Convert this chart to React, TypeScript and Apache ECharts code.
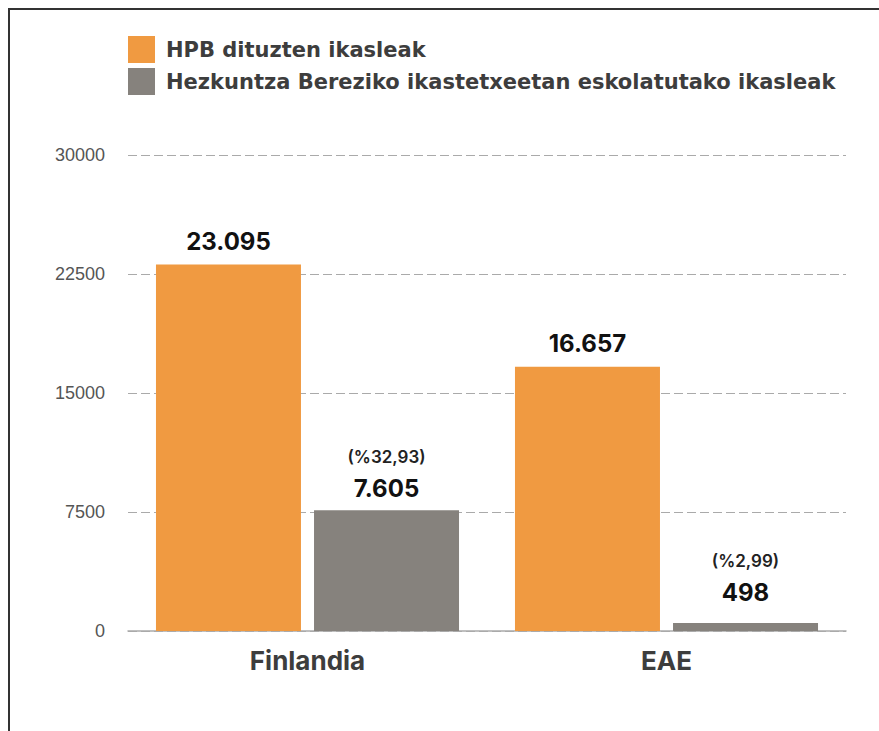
import React, { useEffect, useRef } from "react";
import * as echarts from "echarts";

const categories = ["Finlandia", "EAE"];
const seriesNames = [
  "HPB dituzten ikasleak",
  "Hezkuntza Bereziko ikastetxeetan eskolatutako ikasleak",
];
const hpbValues = [23095, 16657];
const specialValues = [7605, 498];
const specialPercents = ["32,93", "2,99"];
const yTicks = [0, 7500, 15000, 22500, 30000];

const fmt = (v: number) => String(v).replace(/\B(?=(\d{3})+(?!\d))/g, ".");

const FONT = "Inter, 'Liberation Sans', Arial, sans-serif";
const LEGEND_FONT = "'DejaVu Sans', Inter, Arial, sans-serif";
const TICK_FONT = "'Liberation Sans', Arial, sans-serif";

export default function App() {
  const ref = useRef<HTMLDivElement>(null);
  useEffect(() => {
    if (!ref.current) return;
    const chart = echarts.init(ref.current, undefined, { renderer: "svg" });
    chart.setOption({
      animation: false,
      textStyle: { fontFamily: FONT },
      legend: {
        orient: "vertical",
        left: 128,
        top: 36,
        padding: 0,
        itemWidth: 27,
        itemHeight: 27,
        itemGap: 5,
        icon: "rect",
        selectedMode: false,
        textStyle: { fontSize: 21, fontWeight: "bold", color: "#3d3d3d", fontFamily: LEGEND_FONT, padding: [0, 0, 0, 6] },
        data: seriesNames,
      },
      graphic: [
        { type: "line", shape: { x1: 9, y1: 8, x2: 9, y2: 731 }, style: { stroke: "#333", lineWidth: 2 } },
        { type: "line", shape: { x1: 8, y1: 9, x2: 879, y2: 9 }, style: { stroke: "#333", lineWidth: 2 } },
      ],
      grid: { left: 128, right: 33, top: 155, bottom: 100 },
      xAxis: {
        type: "category",
        data: categories,
        axisLine: { lineStyle: { color: "#aaa", width: 1.5 } },
        axisTick: { show: false },
        axisLabel: { fontSize: 26, fontWeight: "bold", color: "#3d3d3d", margin: 16, fontFamily: FONT },
      },
      yAxis: {
        type: "value",
        min: 0,
        max: 30000,
        interval: 7500,
        axisLine: { show: false },
        axisTick: { show: false },
        axisLabel: {
          fontSize: 18,
          color: "#555",
          margin: 23,
          fontFamily: TICK_FONT,
          formatter: (v: number) => (yTicks.includes(v) ? String(v) : ""),
        },
        splitLine: { lineStyle: { color: "#aaa", type: [9, 4], width: 1 } },
      },
      series: [
        {
          name: seriesNames[0],
          type: "bar",
          data: hpbValues,
          barWidth: 145,
          barGap: "9%",
          itemStyle: { color: "#F09A41" },
          label: {
            show: true,
            position: "top",
            distance: 11,
            fontSize: 24,
            fontWeight: "bold",
            color: "#111",
            fontFamily: FONT,
            formatter: (p: any) => fmt(p.value),
          },
        },
        {
          name: seriesNames[1],
          type: "bar",
          data: specialValues.map((v, i) => ({
            value: v,
            label: { distance: i === 1 ? 17 : 8 },
          })),
          barWidth: 145,
          itemStyle: { color: "#86827D" },
          label: {
            show: true,
            position: "top",
            fontFamily: FONT,
            formatter: (p: any) => `{p|(%${specialPercents[p.dataIndex]})}\n{v|${fmt(p.value)}}`,
            rich: {
              p: { fontSize: 17, fontWeight: 600, color: "#222", lineHeight: 34, fontFamily: FONT },
              v: { fontSize: 24, fontWeight: "bold", color: "#111", lineHeight: 28, fontFamily: FONT },
            },
          },
        },
      ],
    });
    return () => chart.dispose();
  }, []);
  return (
    <div
      ref={ref}
      style={{ position: "fixed", left: 0, top: 0, width: 879, height: 731, background: "#fff" }}
    />
  );
}
